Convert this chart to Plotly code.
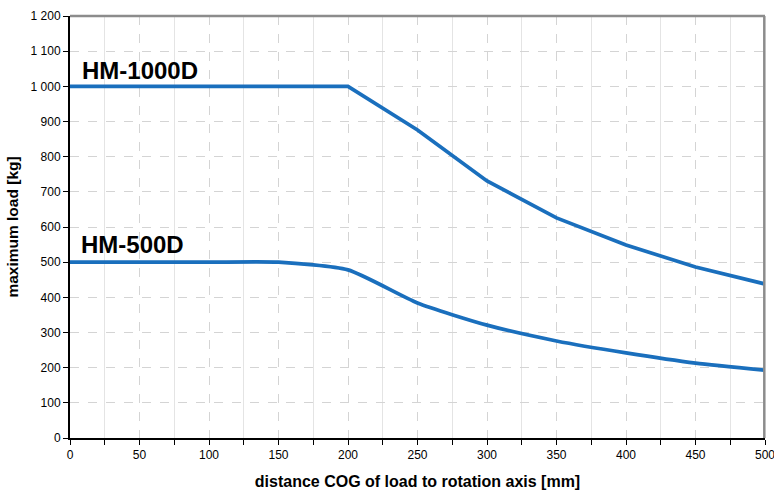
import plotly.graph_objects as go

distance = [0, 50, 100, 150, 200, 250, 300, 350, 400, 450, 500]
hm1000 = [1000, 1000, 1000, 1000, 1000, 876, 731, 626, 549, 486, 438]
hm500 = [500, 500, 500, 500, 478, 384, 321, 276, 242, 213, 193]
labels = ["HM-1000D", "HM-500D"]
label_pos = [(7.5, 1046), (6.8, 549)]

FONT = "Liberation Sans"
color = "#1a6fbd"
fig = go.Figure()
fig.add_trace(go.Scatter(x=distance, y=hm1000, mode="lines",
                         line=dict(color=color, width=3.7), showlegend=False,
                         cliponaxis=False))
fig.add_trace(go.Scatter(x=distance, y=hm500, mode="lines",
                         line=dict(color=color, width=3.7, shape="spline", smoothing=0.6),
                         showlegend=False, cliponaxis=False))

for t, (lx, ly) in zip(labels, label_pos):
    fig.add_annotation(x=lx, y=ly, text="<b>%s</b>" % t, showarrow=False,
                       xanchor="left", yanchor="middle",
                       font=dict(family=FONT, size=24, color="black"))

# top and right gray border
fig.add_shape(type="line", xref="paper", yref="paper", x0=0, x1=1, y0=1, y1=1,
              line=dict(color="#8c8c8c", width=2.5), layer="above")
fig.add_shape(type="line", xref="paper", yref="paper", x0=0.999, x1=0.999, y0=0, y1=1,
              line=dict(color="#8c8c8c", width=2.5), layer="above")

fig.update_layout(
    width=774, height=490,
    margin=dict(l=70, r=9, t=16, b=52, autoexpand=False),
    plot_bgcolor="white", paper_bgcolor="white",
    separators=". ",
    font=dict(family=FONT, size=12, color="black"),
    xaxis=dict(range=[0, 500], dtick=50, tick0=0, showgrid=True, automargin=False,
               ticklabeloverflow="allow",
               gridcolor="#d4d4d4", griddash="dash", gridwidth=1,
               ticks="outside", ticklen=5, tickcolor="black",
               showline=True, linecolor="black", linewidth=2, zeroline=False,
               minor=dict(dtick=25, showgrid=True, gridcolor="#e4e4e4", griddash="solid",
                          ticks="outside", ticklen=5, tickcolor="black"),
               title=dict(text="<b>distance COG of load to rotation axis [mm]</b>",
                          font=dict(family=FONT, size=16), standoff=14),
               tickfont=dict(family=FONT, size=12)),
    yaxis=dict(range=[0, 1200], dtick=100, tick0=0, showgrid=True, automargin=False,
               gridcolor="#d4d4d4", griddash="dash", gridwidth=1,
               ticks="outside", ticklen=5, tickcolor="black",
               showline=True, linecolor="black", linewidth=2, zeroline=False,
               tickformat=",d",
               title=dict(text="<b>maximum load [kg]</b>",
                          font=dict(family=FONT, size=15.5), standoff=8),
               tickfont=dict(family=FONT, size=12)),
)

fig.write_html("out.html", config={"displayModeBar": False},
               post_script="document.body.style.margin='0px';document.body.style.overflow='hidden';")
